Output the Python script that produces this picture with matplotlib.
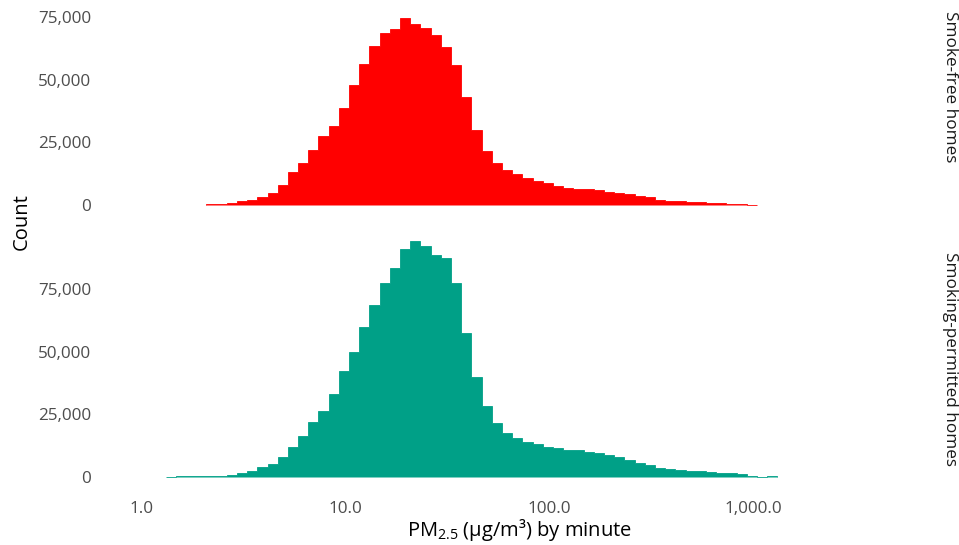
import numpy as np
import matplotlib
matplotlib.use("Agg")
import matplotlib.pyplot as plt
from matplotlib.ticker import FixedLocator, FixedFormatter

plt.rcParams["font.family"] = ["Open Sans", "DejaVu Sans"]
plt.rcParams["mathtext.fontset"] = "custom"
plt.rcParams["mathtext.rm"] = "Open Sans"

# histogram bins on log10 scale (shared by both facets)
bin_width_log = 0.05
first_edge_log = 0.12

# smoke-free homes: counts per bin, first bar sits in bin 4
smokefree_first_bin = 4
smokefree_counts = [
    300, 400, 800, 1500, 2000, 3000, 4800, 8100, 13000, 16800,
    22000, 27400, 31600, 38600, 47800, 56400, 63300, 68400, 70000, 74600,
    72000, 70400, 67600, 63200, 55800, 42900, 30100, 21500, 16600, 14100,
    12500, 10750, 9400, 8600, 7500, 6600, 6300, 6300, 5800, 5000,
    4600, 4200, 3600, 3100, 2150, 1750, 1500, 1200, 1100, 950,
    800, 550, 400, 150,
]

# smoking-permitted homes: counts per bin, from bin 0
smoking_first_bin = 0
smoking_counts = [
    150, 250, 350, 350, 450, 600, 900, 1500, 2300, 3900,
    5000, 8000, 12100, 16500, 21900, 26200, 33000, 42300, 49700, 59800,
    68400, 77300, 83500, 90800, 94000, 92000, 88600, 87200, 77300, 57500,
    39700, 28300, 21700, 17400, 15700, 14100, 13300, 12000, 11400, 10900,
    10600, 10000, 9400, 8600, 7800, 6600, 5600, 4650, 3600, 3200,
    2800, 2500, 2250, 2000, 1700, 1450, 1050, 400, 130, 250,
]

facet_labels = ["Smoke-free homes", "Smoking-permitted homes"]
facet_colors = ["#FF0000", "#00A087"]

x_ticks = [1, 10, 100, 1000]
x_tick_labels = ["1.0", "10.0", "100.0", "1,000.0"]
y_ticks = [0, 25000, 50000, 75000]
y_tick_labels = ["0", "25,000", "50,000", "75,000"]

series = [
    (smokefree_first_bin, smokefree_counts),
    (smoking_first_bin, smoking_counts),
]

W, H = 959, 545
fig = plt.figure(figsize=(W / 100, H / 100), dpi=100)
fig.patch.set_facecolor("white")

# shared y scale, equal panel heights; top panel runs past the top edge
ymax = max(max(c) for _, c in series)
ylim = (-0.05 * ymax, 1.05 * ymax)
panel_left, panel_right = 98, 940
panel_h = 259.3
panel_bottoms = [216.8, 488.8]   # pixel rows of panel bottoms

xlim = (10 ** -0.211, 10 ** 3.917)

for i, (first_bin, counts) in enumerate(series):
    ax = fig.add_axes([
        panel_left / W, 1 - panel_bottoms[i] / H,
        (panel_right - panel_left) / W, panel_h / H,
    ])
    n = len(counts)
    edges = 10 ** (first_edge_log + bin_width_log * (first_bin + np.arange(n + 1)))
    ax.stairs(counts, edges, fill=True, facecolor=facet_colors[i],
              edgecolor=facet_colors[i], linewidth=0.6)

    ax.set_xscale("log")
    ax.set_xlim(*xlim)
    ax.set_ylim(*ylim)

    ax.yaxis.set_major_locator(FixedLocator(y_ticks))
    ax.yaxis.set_major_formatter(FixedFormatter(y_tick_labels))
    ax.tick_params(axis="y", length=0, pad=5, labelsize=12.3, labelcolor="#4D4D4D")

    ax.xaxis.set_minor_locator(FixedLocator([]))
    if i == 1:
        ax.xaxis.set_major_locator(FixedLocator(x_ticks))
        ax.xaxis.set_major_formatter(FixedFormatter(x_tick_labels))
        ax.tick_params(axis="x", length=0, pad=9, labelsize=12.3, labelcolor="#4D4D4D")
    else:
        ax.set_xticks([])

    for s in ax.spines.values():
        s.set_visible(False)
    ax.set_facecolor("white")

    # facet strip on the right
    yc = 1 - (panel_bottoms[i] - panel_h / 2) / H
    fig.text(950 / W, yc, facet_labels[i], rotation=270,
             ha="center", va="center", fontsize=12.3, color="#1A1A1A")

fig.text(22 / W, 1 - 222 / H, "Count", rotation=90, ha="center", va="center",
         fontsize=14.5, color="black")
fig.text(519 / W, 1 - 530 / H, r"PM$_{\mathregular{2.5}}$ (µg/m³) by minute",
         ha="center", va="center", fontsize=14.5, color="black")

fig.savefig("out.png", dpi=100, facecolor="white")
